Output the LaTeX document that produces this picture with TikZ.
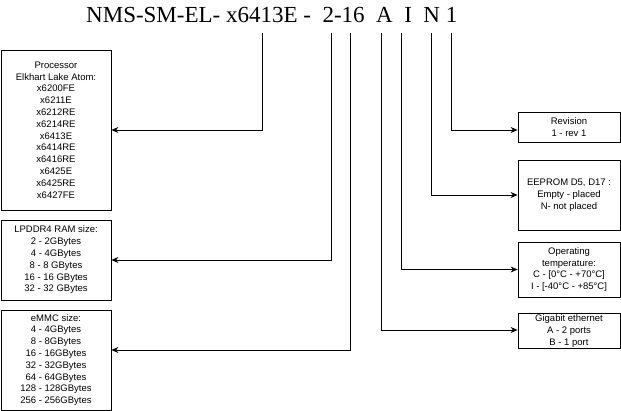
\documentclass[tikz,border=0pt]{standalone}
\usepackage{fontspec}
\setmainfont{Liberation Sans}
\newfontfamily\serifpart{Liberation Serif}
\usetikzlibrary{arrows.meta, calc}

\begin{document}
\begin{tikzpicture}[x=1pt, y=-1pt,
    conn/.style={-{Stealth[length=7pt,width=6pt]}, line width=0.8pt},
    box/.style={rectangle, draw, line width=0.8pt, fill=white, align=center, inner sep=0pt, font=\fontsize{9.5}{11.8}\selectfont},
    leftbox/.style={box, minimum width=110pt},
    rightbox/.style={box, minimum width=102pt}]

    \useasboundingbox (0,0) rectangle (621,411);

    % Part number
    \node[anchor=base west, inner sep=0pt, font=\serifpart\fontsize{23}{23}\selectfont] (partno) at (86,23) {NMS-SM-EL- x6413E -\ \ 2-16\ \ A\ \ I\ \ N 1};

    \coordinate (cpu_top) at (262,33);
    \coordinate (ram_top) at (331,33);
    \coordinate (emmc_top) at (350,33);
    \coordinate (eth_top) at (381,33);
    \coordinate (temp_top) at (401,33);
    \coordinate (eeprom_top) at (431,33);
    \coordinate (rev_top) at (451,33);

    % Left boxes
    \node[leftbox, minimum height=160pt] (cpu) at (56,130) {Processor\\Elkhart Lake Atom:\\x6200FE\\x6211E\\x6212RE\\x6214RE\\x6413E\\x6414RE\\x6416RE\\x6425E\\x6425RE\\x6427FE};
    \node[leftbox, minimum height=80pt] (ram) at (56,260) {LPDDR4 RAM size:\\2 - 2GBytes\\4 - 4GBytes\\8 - 8 GBytes\\16 - 16 GBytes\\32 - 32 GBytes};
    \node[leftbox, minimum height=100pt] (emmc) at (56,360) {eMMC size:\\4 - 4GBytes\\8 - 8GBytes\\16 - 16GBytes\\32 - 32GBytes\\64 - 64GBytes\\128 - 128GBytes\\256 - 256GBytes};

    % Right boxes
    \node[rightbox, minimum height=30pt] (rev) at (569,127) {Revision\\1 - rev 1};
    \node[rightbox, minimum height=70pt] (eeprom) at (569,195) {EEPROM D5, D17 :\\Empty - placed\\N- not placed};
    \node[rightbox, minimum height=55pt] (temp) at (569,269.5) {Operating\\temperature:\\C - [0°C - +70°C]\\I - [-40°C - +85°C]};
    \node[rightbox, inner ysep=1pt] (eth) at (569,331) {Gigabit ethernet\\A - 2 ports\\B - 1 port};

    % Connectors
    \draw[conn] (cpu_top) |- (cpu.east);
    \draw[conn] (ram_top) |- (ram.east);
    \draw[conn] (emmc_top) |- ($(emmc.east)+(0,-10)$);
    \draw[conn] (eth_top) |- ($(eth.west)+(0,-1)$);
    \draw[conn] (temp_top) |- (temp.west);
    \draw[conn] (eeprom_top) |- (eeprom.west);
    \draw[conn] (rev_top) |- ($(rev.west)+(0,3)$);

\end{tikzpicture}
\end{document}
